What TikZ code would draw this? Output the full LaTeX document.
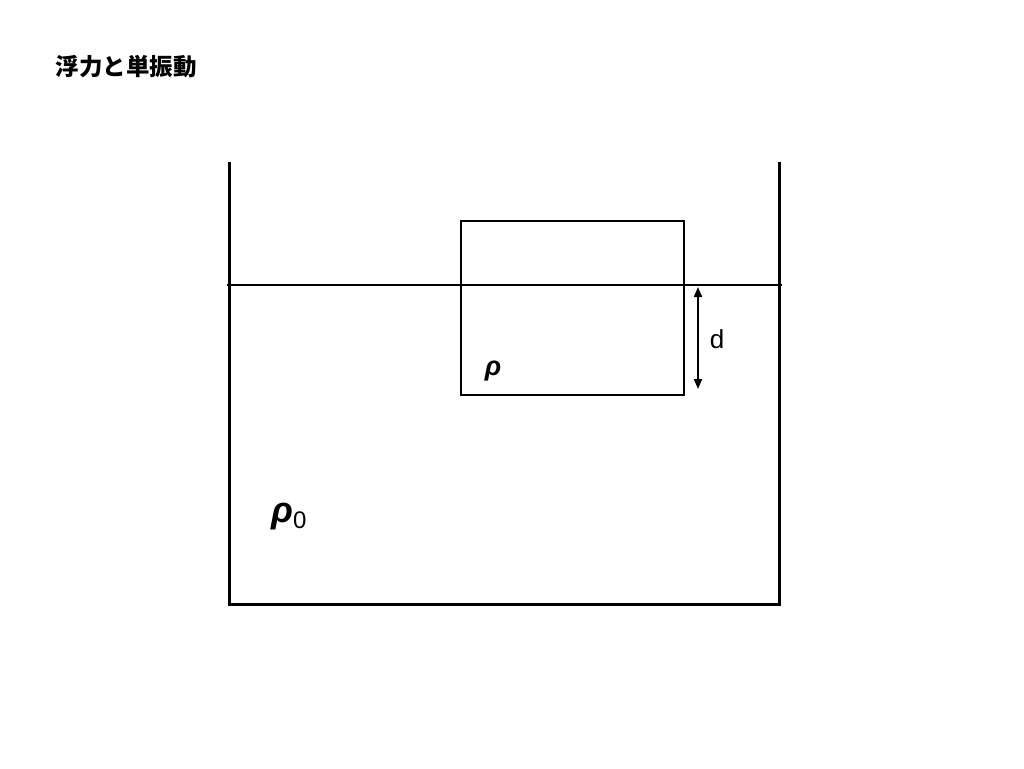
\documentclass[tikz,border=0pt]{standalone}
\usepackage{fontspec}
\setmainfont{Liberation Sans}
\newfontfamily\cjk{Noto Sans CJK JP}
\usepackage{tikz}
\usetikzlibrary{arrows.meta}
\usetikzlibrary{positioning}
\tikzset{wall/.style = {line width=3pt},
         water/.style = {line width=2.2pt},
         body/.style = {draw, line width=2.2pt, minimum width=223pt, minimum height=174pt, inner sep=0pt},
         depth/.style = {{Triangle[length=10pt,width=8pt]}-{Triangle[length=10pt,width=8pt]}, line width=2pt}}

\begin{document}
\begin{tikzpicture}[x=1pt,y=-1pt]
		\useasboundingbox (0,0) rectangle (1024,768);
		
		\node[anchor=west, font=\cjk\bfseries\fontsize{23.5}{26}\selectfont] (title) at (52,67) {浮力と単振動};
		
		\coordinate (tl) at (229,162);
		\coordinate (bl) at (229,604);
		\coordinate (br) at (779,604);
		\coordinate (tr) at (779,162);
		\coordinate (wl) at (227,285);
		\coordinate (wr) at (782,285);
		
		\node[body] (block) at (572.5,308) {};
		\node[font=\bfseries\itshape\fontsize{27}{30}\selectfont] (rho) at (493,371) {ρ};
		
		\coordinate (dtop) at (698,287);
		\coordinate (dbot) at (698,389);
		\node[font=\fontsize{26}{28}\selectfont] (d) at (717,339) {d};
		
		\node[font=\fontsize{36}{38}\selectfont] (rho0) at (289,517) {\textbf{\textit{ρ}}\raisebox{-6pt}{\fontsize{24}{26}\selectfont 0}};
		
		\draw[wall] (tl) -- (bl) -- (br) -- (tr);
		\draw[water] (wl) -- (wr);
		\draw[depth] (dtop) -- (dbot);
		\end{tikzpicture}
\end{document}
